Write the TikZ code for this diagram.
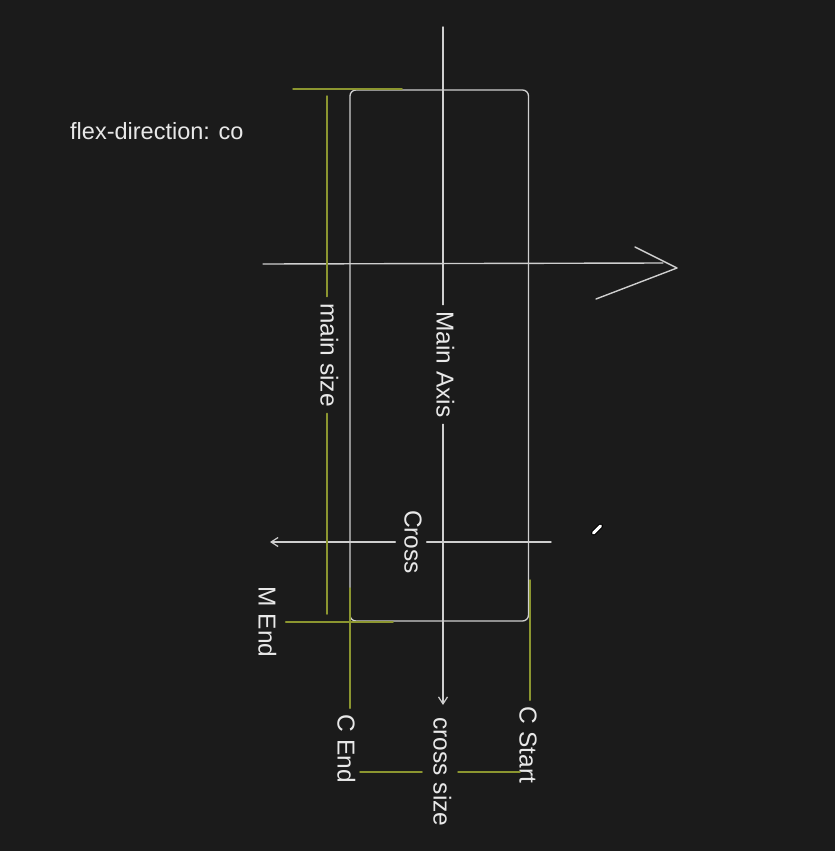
\documentclass[tikz,border=0pt]{standalone}
\usepackage{fontspec}
\setmainfont{Liberation Sans}
\usetikzlibrary{arrows.meta}
\definecolor{bgc}{HTML}{1B1B1B}
\definecolor{wl}{HTML}{CFCFCF}
\definecolor{tx}{HTML}{E8E8E8}
\definecolor{ol}{HTML}{8C9630}
\begin{document}
\begin{tikzpicture}[x=1pt,y=-1pt,
  wline/.style={draw=wl,line width=1.4pt,line cap=round},
  oline/.style={draw=ol,line width=1.5pt,line cap=round},
  lbl/.style={text=tx,font=\fontsize{24.5}{29}\selectfont,rotate=-90,
    text height=18pt,text depth=5pt,inner xsep=6.5pt,inner ysep=4pt},
  tip/.style={-{Straight Barb[length=7pt,width=9pt,line width=1.2pt]}}]
\useasboundingbox (0,0) rectangle (835,851);
\fill[bgc] (0,0) rectangle (835,851);

% labels
\node[lbl] (mainaxis) at (443,364.5) {Main Axis};
\node[lbl] (mainsize) at (327,355) {main size};
\node[lbl] (cross) at (411,542) {Cross};
\node[lbl] (mend) at (265,622) {M End};
\node[lbl] (cend) at (344,749) {C End};
\node[lbl] (csize) at (440,772) {cross size};
\node[lbl] (cstart) at (526,745) {C Start};
\node[text=tx,font=\fontsize{23.5}{28}\selectfont,anchor=base west,inner sep=0] (flex) at (70,139) {flex-direction: co};

% container
\node[draw=wl,line width=1.3pt,rounded corners=6pt,minimum width=178.5pt,
  minimum height=531pt,inner sep=0] (box) at (439.25,355.5) {};

% coordinates
\coordinate (maT) at (443,27);
\coordinate (maB) at (443,705);
\coordinate (hL) at (263,264);
\coordinate (hR) at (663,263);
\coordinate (hA) at (635,247);
\coordinate (hT) at (677,268);
\coordinate (hB) at (596,299);
\coordinate (crR) at (551,542);
\coordinate (crL) at (270,542);
\coordinate (msT) at (327,96);
\coordinate (msB) at (327,614);
\coordinate (tA) at (293,89);
\coordinate (tB) at (402,89);
\coordinate (meR) at (393,622);
\coordinate (ceT) at (350,588);
\coordinate (csT) at (530,580);
\coordinate (b1) at (360,772);
\coordinate (b2) at (422,772);
\coordinate (b3) at (458,772);
\coordinate (b4) at (520,772);
\coordinate (p1) at (593.5,533);
\coordinate (p2) at (600.5,526);

% white connectors
\draw[wline] (maT) -- (mainaxis.west);
\draw[wline,tip] (mainaxis.east) -- (maB);
\draw[wline] (hL) -- (hR);
\draw[wline,line join=round] (hA) -- (hT) -- (hB);
\draw[wline] (crR) -- (cross);
\draw[wline,tip] (cross) -- (crL);

% olive connectors
\draw[oline] (tA) -- (tB);
\draw[oline] (msT) -- (mainsize.west);
\draw[oline] (mainsize.east) -- (msB);
\draw[oline] ([xshift=5pt]mend.north) -- (meR);
\draw[oline] (ceT) -- (ceT |- cend.west);
\draw[oline] (csT) -- (csT |- cstart.west);
\draw[oline] (b1) -- (b2);
\draw[oline] (b3) -- (b4);

% pencil cursor
\draw[line width=5pt,black,line cap=round] (p1) -- (p2);
\draw[line width=3pt,white,line cap=round] (p1) -- (p2);
\end{tikzpicture}
\end{document}
